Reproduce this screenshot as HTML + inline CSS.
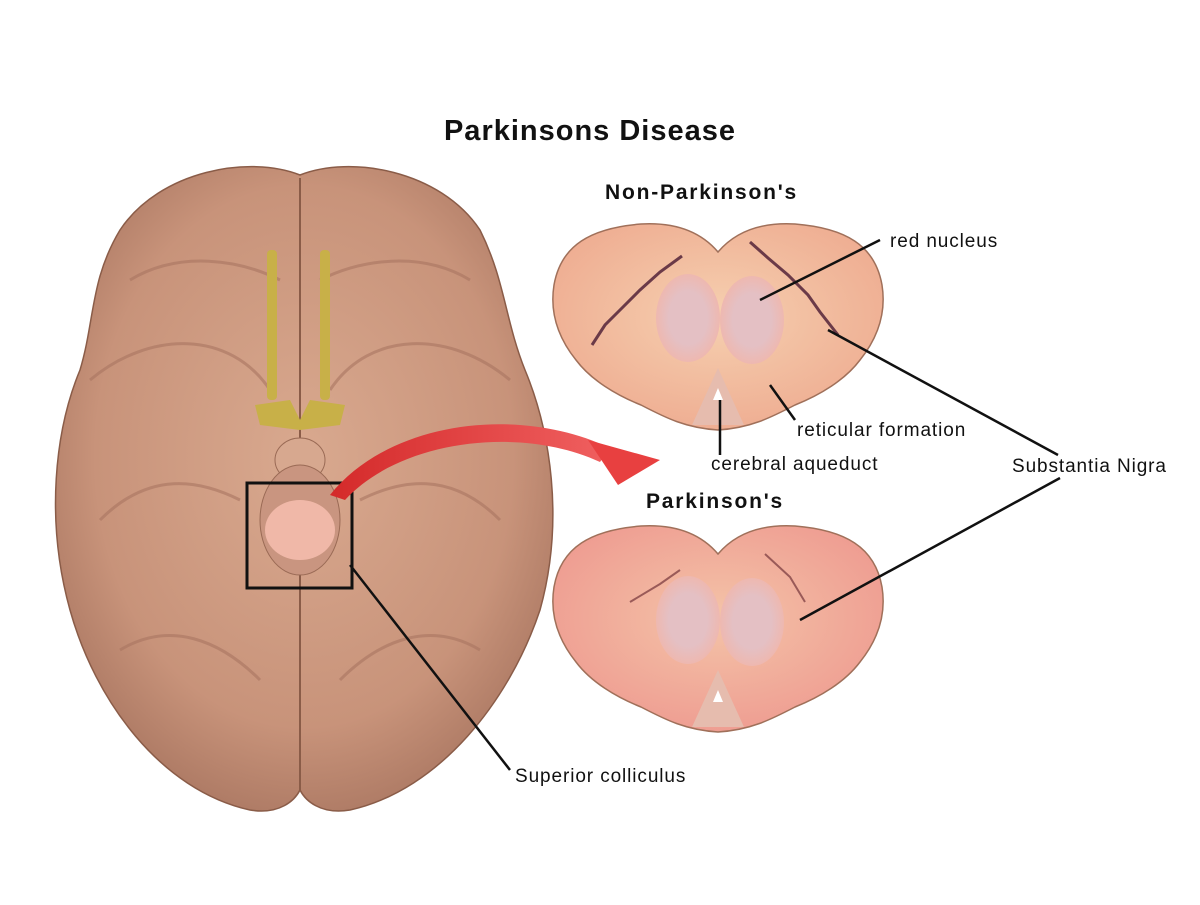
<!DOCTYPE html>
<html><head><style>
body{margin:0;background:#fff;width:1200px;height:900px;overflow:hidden;font-family:"Liberation Sans",sans-serif}
</style></head><body>
<svg width="1200" height="900" viewBox="0 0 1200 900" xmlns="http://www.w3.org/2000/svg">
<defs>
<radialGradient id="br" cx="50%" cy="45%" r="60%"><stop offset="0" stop-color="#d9a98f"/><stop offset="0.7" stop-color="#c8937a"/><stop offset="1" stop-color="#a87560"/></radialGradient>
<radialGradient id="mb" cx="50%" cy="45%" r="60%"><stop offset="0" stop-color="#f6d0b0"/><stop offset="1" stop-color="#eeab90"/></radialGradient>
<radialGradient id="mb2" cx="50%" cy="45%" r="60%"><stop offset="0" stop-color="#f4c4a8"/><stop offset="1" stop-color="#ee9a90"/></radialGradient>
<radialGradient id="rn" cx="50%" cy="50%" r="50%"><stop offset="0.6" stop-color="#e4c0c4"/><stop offset="1" stop-color="#eeb8b0"/></radialGradient>
<linearGradient id="ar" x1="0" x2="1"><stop offset="0" stop-color="#d42a2a"/><stop offset="1" stop-color="#f06060"/></linearGradient>
<path id="mid" d="M718,252 C735,232 760,222 795,224 C845,228 875,245 882,285 C886,310 880,335 860,360 C845,380 820,395 795,405 C770,418 750,428 718,430 C686,428 666,418 641,405 C616,395 591,380 576,360 C556,335 550,310 554,285 C561,245 591,228 641,224 C676,222 701,232 718,252 Z"/>
</defs>
<text x="590" y="140" text-anchor="middle" font-size="29" letter-spacing="1" font-weight="bold" fill="#111">Parkinsons Disease</text>
<path d="M300,175 C250,155 160,170 120,230 C90,280 95,320 80,370 C55,430 45,520 70,610 C95,700 160,790 250,810 C280,815 295,800 300,790 C305,800 320,815 350,810 C440,790 510,700 540,610 C565,520 550,430 525,370 C505,320 505,280 480,230 C440,170 350,155 300,175 Z" fill="url(#br)" stroke="#8a5c48" stroke-width="1.5"/>
<path d="M300,178 L300,790" stroke="#8a5c48" stroke-width="2" fill="none"/>
<path d="M90,380 C150,330 230,330 270,390 M510,380 C450,330 370,330 330,390 M100,520 C150,470 200,480 240,500 M500,520 C450,470 400,480 360,500 M130,280 C180,250 240,260 280,280 M470,280 C420,250 360,260 320,280 M120,650 C170,620 220,640 260,680 M480,650 C430,620 380,640 340,680" stroke="#a97560" stroke-width="3" fill="none" opacity="0.6"/>
<rect x="267" y="250" width="10" height="150" rx="4" fill="#c8b048"/>
<rect x="320" y="250" width="10" height="150" rx="4" fill="#c8b048"/>
<path d="M255,405 L290,400 L300,420 L310,400 L345,405 L340,425 L300,430 L260,425 Z" fill="#c8b048"/>
<ellipse cx="300" cy="460" rx="25" ry="22" fill="#d7a88f" stroke="#9a6a55"/>
<ellipse cx="300" cy="520" rx="40" ry="55" fill="#c99580" stroke="#9a6a55"/>
<ellipse cx="300" cy="530" rx="35" ry="30" fill="#f0b8a8"/>
<rect x="247" y="483" width="105" height="105" fill="none" stroke="#111" stroke-width="3"/>
<path d="M330,495 C390,420 520,405 610,448 L600,462 C520,425 400,440 345,500 Z" fill="url(#ar)"/>
<path d="M588,440 L660,460 L618,485 Z" fill="#e84040"/>
<use href="#mid" fill="url(#mb)" stroke="#a0705a" stroke-width="1.5"/>
<ellipse cx="688" cy="318" rx="32" ry="44" fill="url(#rn)"/>
<ellipse cx="752" cy="320" rx="32" ry="44" fill="url(#rn)"/>
<path d="M692,425 L718,368 L744,425 Z" fill="#e6bcae"/>
<path d="M713,400 L718,388 L723,400 Z" fill="#fff"/>
<path d="M592,345 L605,325 L620,310 L640,290 L660,272 L682,256" stroke="#6b3a48" stroke-width="3" fill="none"/>
<path d="M750,242 L768,258 L788,275 L808,295 L820,312 L838,335" stroke="#6b3a48" stroke-width="3" fill="none"/>
<g transform="translate(0,302)">
<use href="#mid" fill="url(#mb2)" stroke="#a0705a" stroke-width="1.5"/>
<ellipse cx="688" cy="318" rx="32" ry="44" fill="url(#rn)"/>
<ellipse cx="752" cy="320" rx="32" ry="44" fill="url(#rn)"/>
<path d="M692,425 L718,368 L744,425 Z" fill="#e6bcae"/>
<path d="M713,400 L718,388 L723,400 Z" fill="#fff"/>
<path d="M630,300 L660,282 L680,268" stroke="#9a5a58" stroke-width="2" fill="none"/>
<path d="M765,252 L790,275 L805,300" stroke="#9a5a58" stroke-width="2" fill="none"/>
</g>
<g stroke="#111" stroke-width="2.5" fill="none">
<path d="M760,300 L880,240"/>
<path d="M828,330 L1058,455"/>
<path d="M800,620 L1060,478"/>
<path d="M770,385 L795,420"/>
<path d="M720,400 L720,455"/>
<path d="M350,565 L510,770"/>
</g>
<g font-size="19" letter-spacing="0.9" fill="#111">
<text x="605" y="199" font-size="21" letter-spacing="1.8" font-weight="bold">Non-Parkinson's</text>
<text x="890" y="247">red nucleus</text>
<text x="797" y="436">reticular formation</text>
<text x="711" y="470">cerebral aqueduct</text>
<text x="1012" y="472">Substantia Nigra</text>
<text x="646" y="508" font-size="21" letter-spacing="1.8" font-weight="bold">Parkinson's</text>
<text x="515" y="782">Superior colliculus</text>
</g>
</svg>
</body></html>
